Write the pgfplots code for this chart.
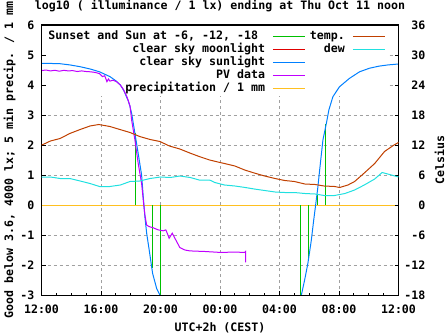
\documentclass[border=0pt]{standalone}
\usepackage{fontspec}
\setmainfont{DejaVu Sans Mono}
\usepackage{pgfplots}
\pgfplotsset{compat=1.18}
\newcommand\gp{\fontsize{11.6}{13}\selectfont\bfseries}
\definecolor{gpgreen}{HTML}{00C000}
\definecolor{gpred}{HTML}{E00000}
\definecolor{gpblue}{HTML}{0080FF}
\definecolor{gppurple}{HTML}{C000FF}
\definecolor{gporange}{HTML}{FFC020}
\definecolor{gptemp}{HTML}{C04000}
\definecolor{gpdew}{HTML}{20E0E0}
\definecolor{gridgray}{HTML}{A0A0A0}
\pgfplotsset{
  common/.style={
    at={(41.5pt,40pt)}, anchor=south west,
    scale only axis, width=357pt, height=270pt,
    xmin=0, xmax=24,
    tick align=inside,
    major tick length=4pt, minor tick length=2.5pt,
    tick style={black, line width=0.8pt},
    axis line style={line width=1pt},
    tick label style={font=\gp, inner sep=0pt},
    label style={font=\gp, inner sep=0pt},
    /pgf/number format/assume math mode=true,
  }
}
\begin{document}
\begin{tikzpicture}
\useasboundingbox (0,0) rectangle (447pt,335pt);
\begin{axis}[common,
  ymin=-3, ymax=6,
  xtick={0,4,...,24},
  xticklabels={12:00,16:00,20:00,00:00,04:00,08:00,12:00},
  minor x tick num=3,
  ytick={-3,-2,...,6},
  xtick pos=bottom, ytick pos=left,
  grid=major,
  major grid style={dash pattern=on 3pt off 3pt, color=gridgray, line width=0.8pt},
  xticklabel style={anchor=base, yshift=-18.3pt},
  yticklabel style={anchor=base east, xshift=-7pt, yshift=-4.7pt},
  title={log10 ( illuminance / 1 lx) ending at Thu Oct 11 noon},
  every axis title shift=0pt,
  title style={font=\gp, inner sep=0pt, at={(axis description cs:0.5,1.0574)}, anchor=base},
  xlabel={UTC+2h (CEST)},
  xlabel style={at={(axis description cs:0.5,-0.134)}, anchor=base},
  ylabel={Good below 3.6, 4000 lx; 5 min precip. / 1 mm},
  ylabel style={at={(axis description cs:-0.0798,0.5)}, anchor=base},
  unbounded coords=jump,
  legend columns=2,
  legend cell align=right,
  legend plot pos=right,
  legend style={at={(axis description cs:0.0196,0.9815)}, anchor=north west,
    draw=none, fill=none, inner sep=0pt, outer sep=0pt,
    row sep=1pt, column sep=0pt,
    /tikz/every even column/.style={column sep=0pt},
    nodes={inner sep=0pt, text height=9.5pt, text depth=2.5pt, font=\gp}},
  legend image code/.code={\path[draw=none,fill=none] (0pt,0pt) -- (45pt,0pt); \draw[#1] (8pt,0pt) -- (40pt,0pt);},
]
% background of the key hides the grid there
\fill[white] (axis cs:0.3,3.65) rectangle (axis cs:23.2,5.9);
% precipitation
\addplot[gporange, line width=1pt, forget plot] coordinates {(0,0) (24,0)};
% sunset and sun at -6, -12, -18
\addplot[gpgreen, line width=1pt, forget plot] coordinates {
(6.33,0) (6.33,2.39) (6.33,nan)
(7.44,0) (7.44,-2.1) (7.44,nan)
(8.03,0) (8.03,-3.5) (8.03,nan)
(17.40,0) (17.40,-3.5) (17.40,nan)
(17.98,0) (17.98,-1.85) (17.98,nan)
(18.58,0) (18.58,0.33) (18.58,nan)
(19.10,0) (19.10,2.7)};
% clear sky sunlight (evening)
\addplot[gpblue, line width=1pt, forget plot] coordinates {
(0,4.72) (0.5,4.72) (1.25,4.71) (1.9,4.67) (2.6,4.61) (3.3,4.53) (3.9,4.44) (4.6,4.28)
(5.0,4.14) (5.3,4.0) (5.55,3.8) (5.7,3.62) (5.83,3.48) (5.95,3.28) (6.06,3.06)
(6.28,2.39) (6.5,1.72) (6.73,1.0) (6.84,0.28) (6.95,-0.39) (7.07,-0.94)
(7.24,-1.5) (7.47,-2.28) (7.74,-2.78) (7.96,-3.0) (8.1,-3.3)};
% clear sky sunlight (morning)
\addplot[gpblue, line width=1pt, forget plot] coordinates {
(17.35,-3.3) (17.47,-3.0) (17.69,-2.5) (17.91,-1.94) (18.14,-1.17) (18.3,-0.5)
(18.43,0.0) (18.58,0.6) (18.7,1.17) (18.92,2.17) (19.15,2.72) (19.32,3.17)
(19.59,3.61) (20.03,3.94) (20.7,4.22) (21.38,4.44) (22.05,4.56) (22.7,4.63)
(23.3,4.67) (24,4.70)};
% PV data
\addplot[gppurple, line width=1pt, forget plot] coordinates {
(0,4.48) (0.3,4.50) (0.6,4.47) (0.9,4.49) (1.2,4.46) (1.5,4.49) (1.8,4.47)
(2.1,4.48) (2.4,4.45) (2.7,4.47) (3.0,4.45) (3.3,4.44) (3.6,4.42) (3.9,4.38)
(4.1,4.28) (4.25,4.31) (4.4,4.11) (4.5,4.20) (4.6,4.13) (4.8,4.16) (5.05,4.11)
(5.3,4.0) (5.5,3.86) (5.75,3.6) (5.95,3.3) (6.06,2.83) (6.28,2.17) (6.5,1.39)
(6.73,0.72) (6.84,0.17) (6.95,-0.33) (7.07,-0.67) (7.24,-0.72) (7.51,-0.76)
(7.85,-0.83) (8.18,-0.86) (8.36,-0.83) (8.5,-1.0) (8.58,-1.11) (8.79,-0.94)
(8.97,-1.11) (9.3,-1.42) (9.64,-1.5) (9.97,-1.53) (11.0,-1.55) (12.0,-1.58)
(13.0,-1.57) (13.66,-1.58) (13.72,-1.55) (13.73,-1.91)};
% legend (gnuplot key order)
\addlegendimage{gpgreen, line width=1pt}
\addlegendentry{Sunset and Sun at -6, -12, -18\phantom{0}}
\addlegendimage{gptemp, line width=1pt}
\addlegendentry{temp.}
\addlegendimage{gpred, line width=1pt}
\addlegendentry{clear sky moonlight}
\addlegendimage{gpdew, line width=1pt}
\addlegendentry{dew}
\addlegendimage{gpblue, line width=1pt}
\addlegendentry{clear sky sunlight}
\addlegendimage{empty legend}
\addlegendentry{}
\addlegendimage{gppurple, line width=1pt}
\addlegendentry{PV data}
\addlegendimage{empty legend}
\addlegendentry{}
\addlegendimage{gporange, line width=1pt}
\addlegendentry{precipitation / 1 mm}
\end{axis}
\begin{axis}[common,
  ymin=-18, ymax=36,
  xtick=\empty,
  ytick={-18,-12,...,36},
  ytick pos=right, yticklabel pos=right,
  yticklabel style={anchor=base east, xshift=27pt, yshift=-4.5pt},
  ylabel={Celsius},
  ylabel style={at={(axis description cs:1.1275,0.5)}, anchor=base},
]
% temperature
\addplot[gptemp, line width=1pt] coordinates {
(0,12.0) (0.1,12.1) (0.6,12.8) (1.25,13.3) (1.9,14.3) (2.6,15.1) (3.26,15.8)
(3.85,16.1) (4.6,15.7) (5.27,15.1) (5.95,14.5) (6.6,13.7) (7.3,13.1) (7.96,12.7)
(8.6,11.8) (9.3,11.2) (9.97,10.4) (10.6,9.7) (11.3,9.0) (12.0,8.5) (12.3,8.3)
(13.0,7.8) (13.66,7.0) (14.3,6.4) (15.0,5.8) (15.7,5.3) (16.35,4.9) (17.0,4.7)
(17.7,4.2) (18.4,4.1) (19.0,3.8) (19.7,3.7) (20.04,3.5) (20.6,4.0) (21.05,4.7)
(21.7,6.4) (22.4,8.3) (23.06,10.7) (23.7,12.0) (24,12.5)};
% dew point
\addplot[gpdew, line width=1pt] coordinates {
(0,5.6) (0.6,5.6) (1.25,5.3) (1.9,5.3) (2.6,4.8) (3.26,4.3) (3.9,3.7) (4.6,3.7)
(5.3,4.0) (5.95,4.7) (6.6,4.8) (7.3,5.3) (8.0,5.6) (8.66,5.5) (9.3,5.8) (10.0,5.5)
(10.6,5.0) (11.3,5.0) (11.65,4.5) (12.3,4.0) (13.0,3.8) (13.7,3.5) (14.3,3.2)
(15.0,2.9) (15.7,2.6) (16.35,2.5) (17.0,2.5) (17.7,2.3) (18.4,2.2) (19.0,1.9)
(19.7,1.9) (20.4,2.3) (21.05,3.0) (21.7,4.0) (22.4,5.2) (22.9,6.5) (23.4,6.1)
(24,5.6)};
\end{axis}
\end{tikzpicture}
\end{document}
